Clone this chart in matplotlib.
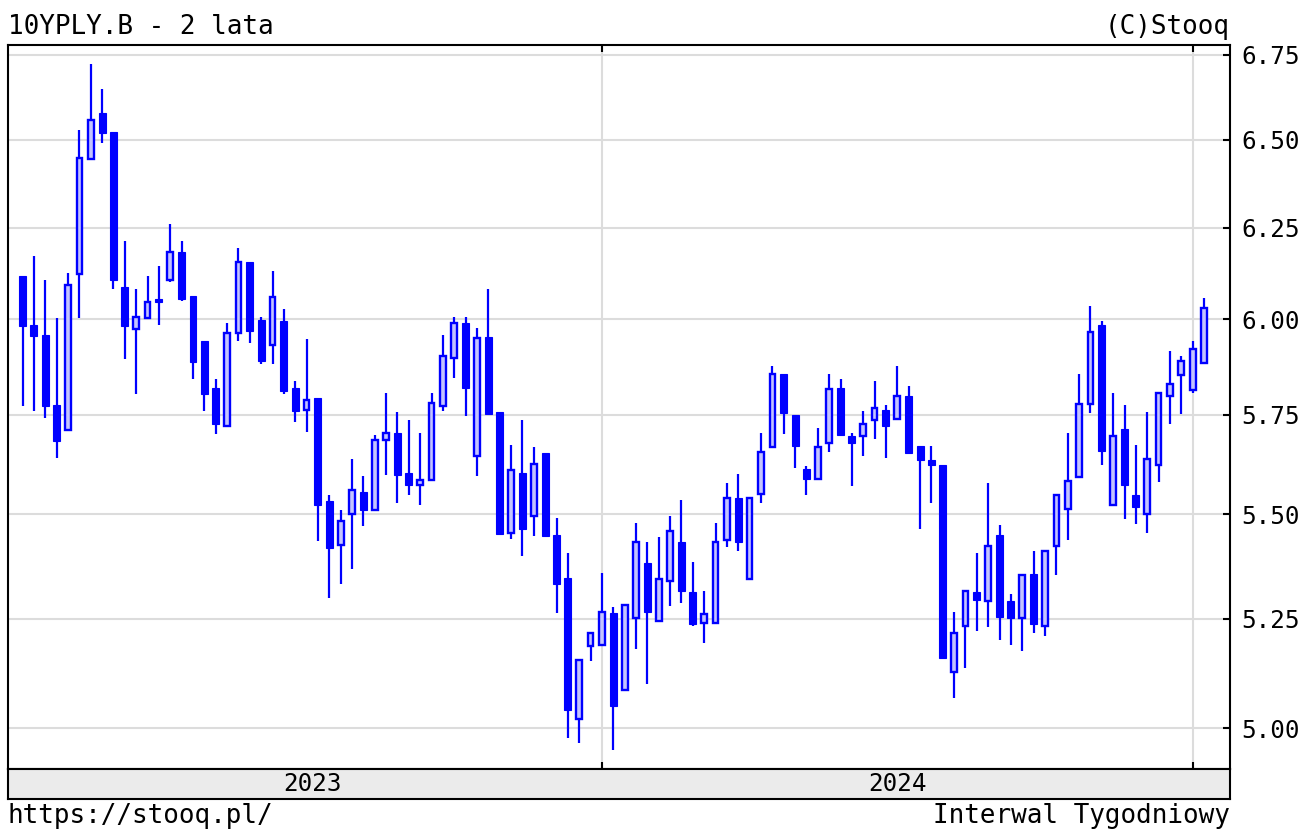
#
# Weekly candlestick chart of the Polish 10Y bond yield (10YPLY.B), 2 years, Stooq style
#

import matplotlib
matplotlib.use("Agg")
import matplotlib.pyplot as plt
import matplotlib.dates as mdates
import matplotlib.ticker as mticker
import matplotlib.transforms as mtransforms
import pandas as pd

# weekly candles, one per week starting 2023-01-09
dates = pd.date_range("2023-01-09", periods=105, freq="7D")

opens = [6.118, 5.985, 5.959, 5.776, 5.712, 6.121, 6.445, 6.578, 6.522, 6.087,
         5.974, 6.004, 6.055, 6.107, 6.182, 6.062, 5.941, 5.820, 5.722, 5.962,
         6.156, 5.998, 5.931, 5.996, 5.820, 5.761, 5.794, 5.532, 5.426, 5.501,
         5.556, 5.511, 5.686, 5.704, 5.602, 5.572, 5.584, 5.772, 5.896, 5.990,
         5.646, 5.953, 5.758, 5.454, 5.602, 5.496, 5.652, 5.450, 5.347, 5.020,
         5.186, 5.190, 5.264, 5.087, 5.251, 5.382, 5.245, 5.339, 5.434, 5.312,
         5.239, 5.239, 5.437, 5.541, 5.343, 5.551, 5.667, 5.855, 5.750, 5.612,
         5.587, 5.678, 5.820, 5.696, 5.696, 5.737, 5.762, 5.739, 5.799, 5.670,
         5.634, 5.623, 5.126, 5.233, 5.312, 5.291, 5.450, 5.291, 5.252, 5.356,
         5.233, 5.422, 5.513, 5.593, 5.778, 5.985, 5.523, 5.714, 5.549, 5.500,
         5.623, 5.798, 5.853, 5.813, 5.883]
highs = [6.118, 6.171, 6.107, 6.003, 6.126, 6.529, 6.724, 6.649, 6.522, 6.213,
         6.080, 6.118, 6.144, 6.261, 6.213, 6.062, 5.941, 5.843, 5.990, 6.193,
         6.156, 6.007, 6.130, 6.027, 5.837, 5.947, 5.794, 5.549, 5.512, 5.637,
         5.596, 5.699, 5.805, 5.756, 5.737, 5.704, 5.806, 5.959, 6.007, 6.007,
         5.976, 6.081, 5.758, 5.674, 5.737, 5.668, 5.652, 5.490, 5.406, 5.154,
         5.218, 5.359, 5.278, 5.282, 5.480, 5.434, 5.445, 5.497, 5.536, 5.384,
         5.315, 5.480, 5.578, 5.601, 5.541, 5.704, 5.875, 5.855, 5.750, 5.620,
         5.716, 5.855, 5.843, 5.703, 5.759, 5.837, 5.776, 5.875, 5.825, 5.670,
         5.670, 5.623, 5.267, 5.316, 5.406, 5.578, 5.474, 5.308, 5.353, 5.412,
         5.410, 5.549, 5.704, 5.855, 6.036, 5.994, 5.805, 5.776, 5.674, 5.756,
         5.805, 5.915, 5.902, 5.941, 6.058]
lows = [5.772, 5.759, 5.742, 5.641, 5.712, 6.003, 6.445, 6.491, 6.082, 5.894,
        5.802, 6.004, 5.985, 6.100, 6.048, 5.843, 5.759, 5.700, 5.722, 5.941,
        5.937, 5.881, 5.882, 5.802, 5.731, 5.705, 5.436, 5.300, 5.333, 5.367,
        5.472, 5.511, 5.598, 5.527, 5.549, 5.522, 5.584, 5.759, 5.846, 5.747,
        5.595, 5.752, 5.452, 5.439, 5.398, 5.448, 5.448, 5.263, 4.978, 4.967,
        5.153, 5.190, 4.952, 5.087, 5.179, 5.099, 5.245, 5.280, 5.286, 5.233,
        5.193, 5.239, 5.421, 5.410, 5.343, 5.527, 5.667, 5.700, 5.616, 5.549,
        5.587, 5.654, 5.696, 5.570, 5.646, 5.688, 5.641, 5.739, 5.652, 5.464,
        5.527, 5.160, 5.067, 5.136, 5.221, 5.231, 5.200, 5.190, 5.176, 5.216,
        5.210, 5.354, 5.437, 5.593, 5.754, 5.623, 5.523, 5.488, 5.476, 5.454,
        5.581, 5.725, 5.753, 5.806, 5.883]
closes = [5.981, 5.955, 5.772, 5.683, 6.091, 6.448, 6.556, 6.520, 6.107, 5.981,
          6.007, 6.046, 6.045, 6.182, 6.055, 5.887, 5.802, 5.725, 5.963, 6.156,
          5.968, 5.889, 6.059, 5.811, 5.759, 5.787, 5.523, 5.418, 5.485, 5.561,
          5.511, 5.686, 5.702, 5.598, 5.573, 5.584, 5.780, 5.902, 5.990, 5.820,
          5.950, 5.752, 5.452, 5.609, 5.464, 5.626, 5.448, 5.333, 5.041, 5.154,
          5.218, 5.267, 5.049, 5.282, 5.434, 5.266, 5.345, 5.460, 5.316, 5.237,
          5.262, 5.434, 5.541, 5.432, 5.541, 5.656, 5.855, 5.754, 5.671, 5.587,
          5.667, 5.817, 5.697, 5.678, 5.725, 5.768, 5.722, 5.799, 5.652, 5.636,
          5.623, 5.160, 5.218, 5.316, 5.295, 5.422, 5.254, 5.252, 5.353, 5.237,
          5.410, 5.549, 5.583, 5.778, 5.965, 5.658, 5.696, 5.572, 5.518, 5.638,
          5.805, 5.828, 5.889, 5.921, 6.031]

price_ticks = [5.00, 5.25, 5.50, 5.75, 6.00, 6.25, 6.50, 6.75]

TITLE = "10YPLY.B - 2 lata"
COPYRIGHT = "(C)Stooq"
URL = "https://stooq.pl/"
INTERVAL = "Interwal Tygodniowy"

BLUE = "#0000ff"
HOLLOW = "#c4c4ff"
GRID = "#dcdcdc"
MONO = "DejaVu Sans Mono"

W, H = 1314, 831

fig = plt.figure(figsize=(W / 100, H / 100), dpi=100)
ax = fig.add_axes([8 / W, 1 - 769 / H, 1222 / W, 724 / H])
strip = fig.add_axes([8 / W, 1 - 799 / H, 1222 / W, 30 / H], sharex=ax)

# wicks
ax.vlines(dates, lows, highs, color=BLUE, linewidth=1.6, zorder=2)

# bodies: filled = falling week, hollow = rising week
body_w = 4.3
for d, o, c in zip(dates, opens, closes):
    lo, hi = min(o, c), max(o, c)
    if c < o:
        ax.bar(d, hi - lo, bottom=lo, width=body_w, color=BLUE,
               edgecolor=BLUE, linewidth=0.8, zorder=3)
    else:
        ax.bar(d, hi - lo, bottom=lo, width=body_w - 0.8, color=HOLLOW,
               edgecolor=BLUE, linewidth=1.7, zorder=3)

ax.set_yscale("log")
ax.set_ylim(4.910, 6.780)
ax.yaxis.set_major_locator(mticker.FixedLocator(price_ticks))
ax.yaxis.set_minor_locator(mticker.NullLocator())
ax.yaxis.set_major_formatter(mticker.FormatStrFormatter("%.2f"))
ax.yaxis.tick_right()

# year boundaries sit on the candle of the week containing 1 January
year_lines = [d for d in dates
              if (d + pd.Timedelta(days=6)).year > (d - pd.Timedelta(days=1)).year]
ax.set_xticks(year_lines)
ax.set_xlim(pd.Timestamp("2022-12-31"), pd.Timestamp("2025-01-22"))

ax.grid(True, color=GRID, linewidth=1.5, zorder=0)
ax.set_axisbelow(True)
ax.tick_params(axis="y", direction="in", length=5, width=1.5, pad=8,
               labelsize=17.5, labelfontfamily=MONO, colors="black")
ax.tick_params(axis="x", direction="in", length=5, width=1.5,
               top=True, bottom=True, labelbottom=False)
for s in ax.spines.values():
    s.set_linewidth(1.5)

# year strip below the chart
strip.set_facecolor("#ebebeb")
strip.set_yticks([])
strip.tick_params(axis="x", length=0, labelbottom=False)
for s in strip.spines.values():
    s.set_linewidth(1.5)
trans = mtransforms.blended_transform_factory(strip.transData, strip.transAxes)
bounds = [dates[0]] + year_lines
for a, b in zip(bounds[:-1], bounds[1:]):
    mid = a + (b - a) / 2
    strip.text(mdates.date2num(mid), 0.5, str(mid.year), transform=trans,
               ha="center", va="center", fontsize=17.5, family=MONO)

fig.text(8 / W, 1 - 27 / H, TITLE, ha="left", va="center", fontsize=18.7, family=MONO)
fig.text(1230 / W, 1 - 27 / H, COPYRIGHT, ha="right", va="center", fontsize=18.7, family=MONO)
fig.text(8 / W, 1 - 816 / H, URL, ha="left", va="center", fontsize=18.7, family=MONO)
fig.text(1230 / W, 1 - 816 / H, INTERVAL, ha="right", va="center", fontsize=18.7, family=MONO)

fig.savefig("out.png", dpi=100, facecolor="white")
